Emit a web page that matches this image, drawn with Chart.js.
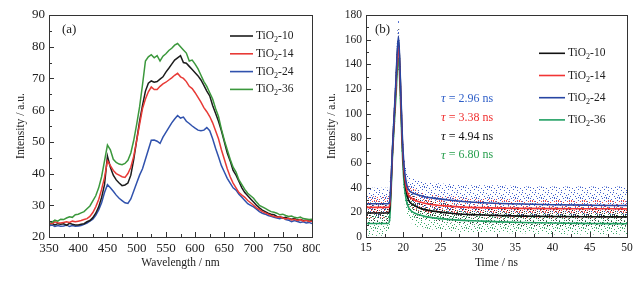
<!DOCTYPE html>
<html><head><meta charset="utf-8">
<script src="https://cdn.jsdelivr.net/npm/chart.js@4/dist/chart.umd.min.js"></script>
<style>
html,body{margin:0;padding:0;background:#fff;width:643px;height:281px;overflow:hidden}
#wa{position:absolute;left:0;top:0;width:320px;height:281px}
#wb{position:absolute;left:320px;top:0;width:323px;height:281px}
</style></head><body>
<div id="wa"><canvas id="ca"></canvas></div>
<div id="wb"><canvas id="cb"></canvas></div>
<script>
// ---------- Panel (a): PL spectra ----------
const wavelengths = [350,355,360,365,370,375,380,385,390,395,400,405,410,415,420,425,430,435,440,445,450,455,460,465,470,475,480,485,490,495,500,505,510,515,520,525,530,535,540,545,550,555,560,565,570,575,580,585,590,595,600,605,610,615,620,625,630,635,640,645,650,655,660,665,670,675,680,685,690,695,700,705,710,715,720,725,730,735,740,745,750,755,760,765,770,775,780,785,790,795,800];
const plTiO2_10 = [24.0,24.3,23.8,24.2,24.0,24.2,23.7,24.3,24.0,23.8,23.8,24.0,24.2,24.8,25.2,26.1,27.5,29.5,32.5,36.5,45.5,42.0,39.5,38.0,37.0,36.2,36.4,37.0,39.5,44.5,50.5,56.5,61.5,66.0,68.5,69.2,68.8,69.0,69.8,70.5,72.0,73.2,74.5,75.8,76.5,77.2,75.0,74.8,73.8,72.8,71.8,70.8,69.5,67.8,66.0,64.5,61.5,59.0,56.5,53.5,50.0,46.5,44.0,41.0,39.5,37.5,35.5,34.0,33.0,32.0,31.0,30.0,29.2,28.5,28.0,27.5,27.2,27.0,26.5,26.4,26.0,26.2,25.8,25.6,25.8,25.4,25.5,25.2,25.3,25.0,25.2];
const plTiO2_14 = [24.5,24.2,24.8,24.5,24.4,24.6,24.8,24.6,25.0,24.8,25.0,25.2,25.5,25.8,26.5,27.7,29.5,31.8,35.0,38.8,44.0,42.5,41.0,40.0,39.5,39.0,38.8,40.0,42.0,45.5,50.5,55.5,60.5,63.5,65.8,67.3,66.5,66.5,67.5,68.3,68.8,69.5,70.2,71.0,71.6,70.5,70.0,69.0,67.5,66.8,65.5,64.0,62.5,60.8,59.5,58.0,56.0,53.5,51.0,47.5,44.5,41.5,39.0,37.0,35.5,34.0,33.2,32.5,31.5,30.8,30.0,29.2,28.6,28.0,27.6,27.2,26.8,26.5,26.2,26.4,26.0,25.7,25.9,25.4,25.6,25.2,25.5,25.0,25.3,24.9,25.0];
const plTiO2_24 = [23.5,23.8,23.3,23.6,23.4,23.5,23.8,23.3,23.6,23.4,23.5,23.6,24.0,24.4,25.0,25.6,26.8,28.5,30.8,34.0,36.5,35.5,34.4,33.2,32.2,31.5,30.8,30.6,32.0,34.5,37.0,39.5,41.5,44.5,47.5,50.5,50.6,50.2,49.5,51.5,53.0,54.5,56.0,57.2,58.3,57.5,57.8,56.5,55.8,55.0,54.3,53.7,53.5,53.7,54.5,53.5,51.0,48.0,45.3,42.5,40.5,38.5,37.0,35.5,34.8,33.5,32.5,31.5,30.5,30.0,29.5,28.8,28.0,27.5,27.2,26.8,26.5,26.2,26.0,25.8,26.2,25.5,25.3,24.8,25.2,24.9,24.6,24.8,24.4,24.6,24.2];
const plTiO2_36 = [25.0,24.6,25.3,25.0,25.6,25.5,26.0,26.4,26.2,27.0,27.2,27.6,28.0,28.9,29.8,31.4,33.0,35.5,39.0,44.0,49.0,47.5,44.5,43.5,43.0,42.8,43.2,44.2,46.5,50.5,55.5,61.0,68.0,75.5,76.8,77.5,76.5,77.2,75.5,77.0,77.8,78.8,79.5,80.5,81.0,80.0,79.0,78.0,75.5,75.8,74.5,73.0,71.0,69.0,67.5,65.5,63.5,60.5,58.0,54.0,50.5,47.5,44.5,42.0,40.5,38.0,36.5,35.0,33.8,33.0,32.2,31.0,30.0,29.5,29.0,28.5,28.0,27.8,27.5,27.0,27.2,26.8,26.5,26.6,26.2,26.0,26.3,25.8,25.7,25.5,25.6];

// ---------- Panel (b): decay curves ----------
const decayTime = [15,18,18.15,18.6,19.0,19.35,19.6,19.85,20.1,20.4,20.7,21,21.5,22,23,24,26,28,30,33,36,40,45,50];
const fitTiO2_10 = [19.5,19.5,21,76,122,160,127,80,52,37,30,27.5,25.5,24,22,21,19.5,18.5,18,17.3,16.9,16.6,16.4,16.3];
const fitTiO2_14 = [24,24,25,76,120,155,124,80,54,40,34,32,30,28.8,27.2,26.2,25,24.2,23.8,23.4,23.2,23,22.9,22.8];
const fitTiO2_24 = [27,27,28,78,125,163,130,85,58,44,38.5,36.5,35,34,32.5,31.5,30,28.8,28,27.2,26.7,26.2,25.8,25.5];
const fitTiO2_36 = [11,11,13,72,112,145,115,72,44,30,24,21.5,19.5,18.2,16.5,15.5,14.3,13.5,13,12.3,11.8,11.3,11,10.8];
// measured-point clouds: upper / lower envelopes
const cloud10Hi = [28,28,30,86,132,170,138,92,62,46,39,36,34,32,30,29,27,26,25,25,24,24,24,24];
const cloud10Lo = [11,11,12,66,112,150,116,68,42,28,22,19,17,15,14,13,12,11,10,10,9,9,9,9];
const cloud14Hi = [33,33,34,86,130,166,135,92,64,50,43,41,39,37,35,34,33,32,31,31,30,30,30,30];
const cloud14Lo = [15,15,16,66,110,145,113,68,44,31,26,24,22,20,19,18,17,16,16,15,15,15,15,15];
const cloud24Hi = [40,40,42,90,137,178,144,99,70,56,50,48,47,46,45,44,43,42,42,42,41,41,41,41];
const cloud24Lo = [16,16,17,68,115,152,118,73,48,35,29,27,25,24,22,21,20,19,18,18,17,17,17,17];
const cloud36Hi = [19,19,22,82,122,156,126,84,55,40,33,30,28,26,24,23,22,21,20,20,19,19,19,19];
const cloud36Lo = [1,1,3,62,102,134,104,60,33,20,15,12,10,8,7,6,5,4,4,3,3,2,2,2];
const lifetimes = ['2.96','3.38','4.94','6.80'];
const sampleNames = ['10','14','24','36'];

const SERIF = "'Liberation Serif','Times New Roman',serif";
Chart.defaults.font.family = SERIF;
Chart.defaults.color = '#222';

const colA = {k:'#1c1c1c', r:'#e83a36', b:'#3052ad', g:'#3b983c'};
const colB = {k:'#111111', r:'#f23434', b:'#2745a3', g:'#21a063'};

function pts(xs, ys){ return xs.map((x,i)=>({x:x, y:ys[i]})); }

// dotted fill style (fixed irregular tile) used to render the measured-point clouds
function makePattern(color, ox, oy){
  const W = 13, H = 11;
  const c = document.createElement('canvas'); c.width = W; c.height = H;
  const g = c.getContext('2d'); g.fillStyle = color;
  const dots = [[0,0],[5,1],[9,0],[2,3],[7,3],[11,2],[4,5],[10,6],[1,7],[6,7],[12,8],[3,9],[8,9],[0,10],[11,10],[7,5],[2,0]];
  dots.forEach(d=>g.fillRect((d[0]+ox)%W,(d[1]+oy)%H,1,1));
  return g.createPattern(c,'repeat');
}

function subTiO2(ctx, x, y, suffix, size){
  ctx.textBaseline = 'middle'; ctx.textAlign = 'left';
  ctx.font = size+'px '+SERIF; ctx.fillText('TiO', x, y);
  let w = ctx.measureText('TiO').width;
  ctx.font = Math.round(size*0.72)+'px '+SERIF; ctx.fillText('2', x+w, y+4);
  w += ctx.measureText('2').width;
  ctx.font = size+'px '+SERIF; ctx.fillText('-'+suffix, x+w, y);
}

const frameTicks = {
  id:'frameTicks',
  afterDraw(chart, args, o){
    const {ctx, chartArea:a, scales:{x,y}} = chart;
    ctx.save(); ctx.strokeStyle = '#333'; ctx.lineWidth = 1;
    const n = Math.round((x.max-x.min)/o.xMinor);
    for(let i=0;i<=n;i++){
      const v = x.min + i*o.xMinor, px = Math.round(x.getPixelForValue(v))+0.5;
      const L = (i % o.xEvery === 0) ? 5 : 3;
      ctx.beginPath(); ctx.moveTo(px, a.bottom); ctx.lineTo(px, a.bottom-L); ctx.stroke();
    }
    const m = Math.round((y.max-y.min)/o.yMinor);
    for(let i=0;i<=m;i++){
      const v = y.min + i*o.yMinor, py = Math.round(y.getPixelForValue(v))+0.5;
      const L = (i % o.yEvery === 0) ? 5 : 3;
      ctx.beginPath(); ctx.moveTo(a.left, py); ctx.lineTo(a.left+L, py); ctx.stroke();
    }
    ctx.strokeRect(Math.round(a.left)+0.5, Math.round(a.top)+0.5, Math.round(a.right-a.left), Math.round(a.bottom-a.top));
    ctx.fillStyle = '#222'; ctx.font = '13px '+SERIF; ctx.textBaseline='middle'; ctx.textAlign='left';
    ctx.fillText(o.panel, o.panelX, o.panelY);
    o.legend.forEach((it,i)=>{
      const yy = o.legY + i*o.legDy;
      ctx.strokeStyle = it.c; ctx.lineWidth = o.legW;
      ctx.beginPath(); ctx.moveTo(o.legX1, yy); ctx.lineTo(o.legX2, yy); ctx.stroke();
      ctx.fillStyle = '#222'; subTiO2(ctx, o.legX2+3, yy, it.s, 11.5);
    });
    if(o.taus){
      o.taus.forEach((t,i)=>{
        const yy = o.tauY + i*o.tauDy;
        ctx.fillStyle = t.c; ctx.textBaseline='middle'; ctx.textAlign='left';
        ctx.font = 'italic 13px '+SERIF; ctx.fillText('\u03C4', o.tauX, yy);
        const w = ctx.measureText('\u03C4').width;
        ctx.font = '12px '+SERIF; ctx.fillText(' = '+t.v+' ns', o.tauX+w, yy);
      });
    }
    ctx.restore();
  }
};

function xScale(min,max,step,title,h,fs){
  return {type:'linear',min,max,
    ticks:{stepSize:step,padding:4,color:'#222',font:{size:fs,family:SERIF},maxRotation:0},
    grid:{display:false,drawTicks:false},border:{display:false},
    title:{display:true,text:title,color:'#222',font:{size:11.5,family:SERIF},padding:{top:4,bottom:4}},
    afterFit(s){ s.height = h; s.paddingLeft = 0; s.paddingRight = 0; }};
}
function yScale(min,max,step,w,fs){
  return {type:'linear',min,max,
    ticks:{stepSize:step,padding:4,color:'#222',font:{size:fs,family:SERIF}},
    grid:{display:false,drawTicks:false},border:{display:false},
    title:{display:true,text:'Intensity / a.u.',color:'#222',font:{size:11.5,family:SERIF},padding:{top:4,bottom:4}},
    afterFit(s){ s.width = w; s.paddingTop = 0; s.paddingBottom = 0; }};
}

function specDs(label, ys, c, order){
  return {label, data:pts(wavelengths, ys), borderColor:c, borderWidth:1.5, pointRadius:0, tension:0, fill:false, order};
}

new Chart(document.getElementById('ca'), {
  type:'line',
  data:{datasets:[
    specDs('TiO2-24', plTiO2_24, colA.b, 4),
    specDs('TiO2-10', plTiO2_10, colA.k, 3),
    specDs('TiO2-14', plTiO2_14, colA.r, 2),
    specDs('TiO2-36', plTiO2_36, colA.g, 1)
  ]},
  options:{
    responsive:true, maintainAspectRatio:false, animation:false,
    layout:{padding:{left:10,top:15,right:8,bottom:7}},
    plugins:{legend:{display:false},tooltip:{enabled:false},
      frameTicks:{xMinor:25,xEvery:2,yMinor:5,yEvery:2,panel:'(a)',panelX:62,panelY:30,
        legX1:230,legX2:253,legY:36,legDy:17.8,legW:1.6,
        legend:[{c:colA.k,s:sampleNames[0]},{c:colA.r,s:sampleNames[1]},{c:colA.b,s:sampleNames[2]},{c:colA.g,s:sampleNames[3]}]}},
    scales:{x:xScale(350,800,50,'Wavelength / nm',37,13), y:yScale(20,90,10,39,13)}
  },
  plugins:[frameTicks]
});

function cloudPair(hi, lo, pat, order){
  return [
    {data:pts(decayTime, hi), borderWidth:0, pointRadius:0, backgroundColor:pat, fill:'+1', cubicInterpolationMode:'monotone', order},
    {data:pts(decayTime, lo), borderWidth:0, pointRadius:0, fill:false, cubicInterpolationMode:'monotone', order}
  ];
}
function fitDs(ys, c, order){
  return {data:pts(decayTime, ys), borderColor:c, borderWidth:1.6, pointRadius:0, fill:false, cubicInterpolationMode:'monotone', order};
}

new Chart(document.getElementById('cb'), {
  type:'line',
  data:{datasets:[
    ...cloudPair(cloud24Hi, cloud24Lo, makePattern('rgba(45,80,200,0.9)',0,0), 20),
    ...cloudPair(cloud14Hi, cloud14Lo, makePattern('rgba(240,50,50,0.9)',4,3), 19),
    ...cloudPair(cloud10Hi, cloud10Lo, makePattern('rgba(20,20,20,0.85)',8,6), 18),
    ...cloudPair(cloud36Hi, cloud36Lo, makePattern('rgba(40,160,90,0.9)',3,8), 17),
    fitDs(fitTiO2_36, colB.g, 4),
    fitDs(fitTiO2_10, colB.k, 3),
    fitDs(fitTiO2_14, colB.r, 2),
    fitDs(fitTiO2_24, colB.b, 1)
  ]},
  options:{
    responsive:true, maintainAspectRatio:false, animation:false,
    layout:{padding:{left:1,top:15,right:16,bottom:7}},
    plugins:{legend:{display:false},tooltip:{enabled:false},filler:{propagate:false},
      frameTicks:{xMinor:2.5,xEvery:2,yMinor:10,yEvery:2,panel:'(b)',panelX:55,panelY:30,
        legX1:219,legX2:245,legY:53.3,legDy:22.2,legW:1.6,
        legend:[{c:colB.k,s:sampleNames[0]},{c:colB.r,s:sampleNames[1]},{c:colB.b,s:sampleNames[2]},{c:colB.g,s:sampleNames[3]}],
        tauX:121,tauY:99,tauDy:18.7,
        taus:[{c:'#2f5fc8',v:lifetimes[0]},{c:'#f03030',v:lifetimes[1]},{c:'#111',v:lifetimes[2]},{c:'#2aa050',v:lifetimes[3]}]}},
    scales:{x:xScale(15,50,5,'Time / ns',37,11.5), y:yScale(0,180,20,45,11.5)}
  },
  plugins:[frameTicks]
});
</script>
</body></html>
